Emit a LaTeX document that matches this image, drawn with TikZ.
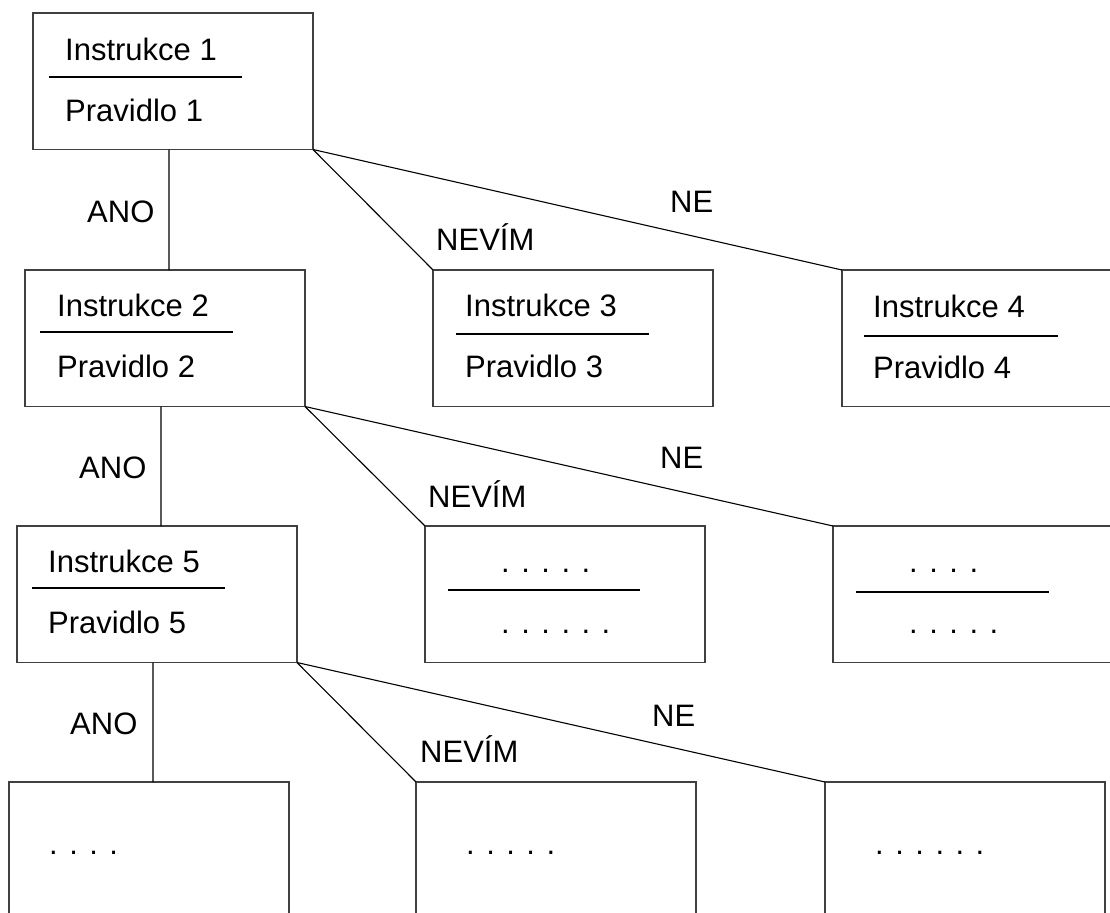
\documentclass[tikz,border=0pt]{standalone}
\usepackage{fontspec}
\setmainfont{Liberation Sans}
\begin{document}
\begin{tikzpicture}[x=1bp,y=-1bp,
  card/.style={draw=black!75, line width=1.6bp, minimum width=280bp,
    minimum height=136.5bp, inner sep=0pt, outer sep=0pt, anchor=north west},
  txt/.style={font=\fontsize{31bp}{37bp}\selectfont, inner sep=0pt, anchor=base west},
  rule/.style={line width=1.9bp},
  link/.style={line width=1.1bp}]
\useasboundingbox (0,0) rectangle (1110,913);
\clip (0,0) rectangle (1110,913);

% boxes, row by row
\node[card] (b1) at (33,13) {};
\node[card] (b2) at (25,270) {};
\node[card] (b3) at (433,270) {};
\node[card] (b4) at (842,270) {};
\node[card] (b5) at (17,526) {};
\node[card] (b6) at (425,526) {};
\node[card] (b7) at (833,526) {};
\node[card] (b8) at (9,782) {};
\node[card] (b9) at (416,782) {};
\node[card] (b10) at (825,782) {};

% box contents
\node[txt] (i1) at ([shift={(32,47)}]b1.north west) {Instrukce 1};
\draw[rule] ([shift={(16,64)}]b1.north west) -- ++(193,0);
\node[txt] (p1) at ([shift={(32,108)}]b1.north west) {Pravidlo 1};

\node[txt] (i2) at ([shift={(32,46)}]b2.north west) {Instrukce 2};
\draw[rule] ([shift={(15,62)}]b2.north west) -- ++(193,0);
\node[txt] (p2) at ([shift={(32,107)}]b2.north west) {Pravidlo 2};

\node[txt] (i3) at ([shift={(32,46)}]b3.north west) {Instrukce 3};
\draw[rule] ([shift={(23,64)}]b3.north west) -- ++(193,0);
\node[txt] (p3) at ([shift={(32,107)}]b3.north west) {Pravidlo 3};

\node[txt] (i4) at ([shift={(31,47)}]b4.north west) {Instrukce 4};
\draw[rule] ([shift={(22,66)}]b4.north west) -- ++(194,0);
\node[txt] (p4) at ([shift={(31,108)}]b4.north west) {Pravidlo 4};

\node[txt] (i5) at ([shift={(31,46)}]b5.north west) {Instrukce 5};
\draw[rule] ([shift={(15,62)}]b5.north west) -- ++(193,0);
\node[txt] (p5) at ([shift={(31,107)}]b5.north west) {Pravidlo 5};

\node[txt] (d6a) at ([shift={(76,46)}]b6.north west) {. . . . .};
\draw[rule] ([shift={(23,64)}]b6.north west) -- ++(192,0);
\node[txt] (d6b) at ([shift={(76,107)}]b6.north west) {. . . . . .};

\node[txt] (d7a) at ([shift={(76,46)}]b7.north west) {. . . .};
\draw[rule] ([shift={(23,66)}]b7.north west) -- ++(193,0);
\node[txt] (d7b) at ([shift={(76,107)}]b7.north west) {. . . . .};

\node[txt] (d8) at ([shift={(40,72)}]b8.north west) {. . . .};
\node[txt] (d9) at ([shift={(50,72)}]b9.north west) {. . . . .};
\node[txt] (d10) at ([shift={(50,72)}]b10.north west) {. . . . . .};

% connectors
\draw[link] ([xshift=-4bp]b1.south) -- ([xshift=4bp]b2.north);
\draw[link] (b1.south east) -- (b3.north west);
\draw[link] (b1.south east) -- (b4.north west);
\draw[link] ([xshift=-4bp]b2.south) -- ([xshift=4bp]b5.north);
\draw[link] (b2.south east) -- (b6.north west);
\draw[link] (b2.south east) -- (b7.north west);
\draw[link] ([xshift=-4bp]b5.south) -- ([xshift=4bp]b8.north);
\draw[link] (b5.south east) -- (b9.north west);
\draw[link] (b5.south east) -- (b10.north west);

% answer labels
\node[txt] (ano1) at (87,222) {ANO};
\node[txt] (nevim1) at (436,250) {NEVÍM};
\node[txt] (ne1) at (670,212) {NE};
\node[txt] (ano2) at (79,478) {ANO};
\node[txt] (nevim2) at (428,507) {NEVÍM};
\node[txt] (ne2) at (660,468) {NE};
\node[txt] (ano3) at (70,734) {ANO};
\node[txt] (nevim3) at (420,762) {NEVÍM};
\node[txt] (ne3) at (652,726) {NE};
\end{tikzpicture}
\end{document}
